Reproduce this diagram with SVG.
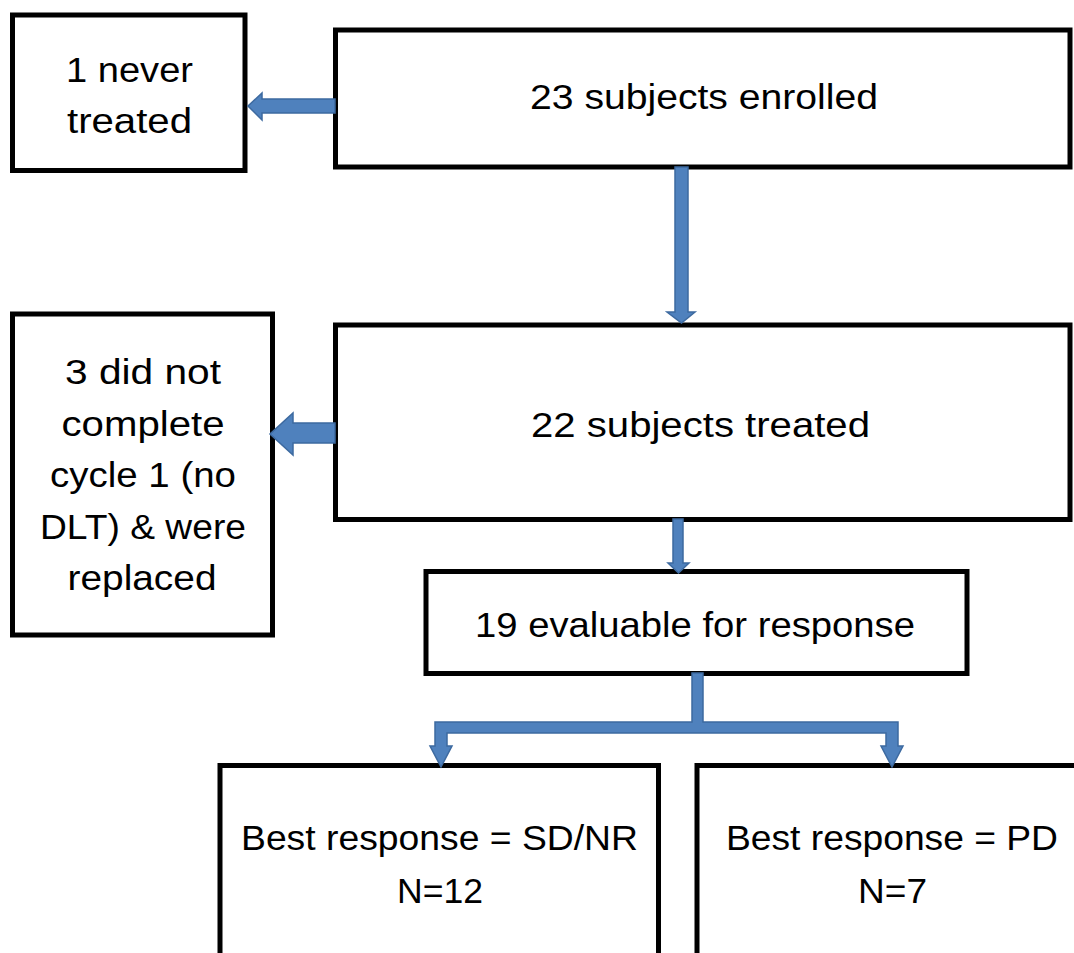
<svg xmlns="http://www.w3.org/2000/svg" width="1074" height="953" viewBox="0 0 1074 953">
<style>
.box{fill:#ffffff;stroke:#000000;stroke-width:5}
.t{font-family:"Liberation Sans",Arial,sans-serif;font-size:35px;fill:#000000;text-anchor:middle}
.arr{fill:#4f81bd;stroke:#3d6aa0;stroke-width:1.5;stroke-linejoin:miter}
</style>
<rect width="1074" height="953" fill="#ffffff"/>
<g id="node-never-treated">
<rect class="box" x="12.5" y="15" width="232.5" height="155.5"/>
<text class="t" x="129.5" y="82" textLength="127" lengthAdjust="spacingAndGlyphs">1 never</text>
<text class="t" x="129.5" y="133" textLength="125" lengthAdjust="spacingAndGlyphs">treated</text>
</g>
<g id="node-enrolled">
<rect class="box" x="335.5" y="30" width="734.5" height="137"/>
<text class="t" x="704" y="109" textLength="348" lengthAdjust="spacingAndGlyphs">23 subjects enrolled</text>
</g>
<g id="node-not-complete">
<rect class="box" x="12.5" y="314" width="260" height="321"/>
<text class="t" x="143" y="384" textLength="156" lengthAdjust="spacingAndGlyphs">3 did not</text>
<text class="t" x="143" y="435.5" textLength="163" lengthAdjust="spacingAndGlyphs">complete</text>
<text class="t" x="143" y="487" textLength="186" lengthAdjust="spacingAndGlyphs">cycle 1 (no</text>
<text class="t" x="143" y="538.5" textLength="206" lengthAdjust="spacingAndGlyphs">DLT) &amp; were</text>
<text class="t" x="142" y="590" textLength="149" lengthAdjust="spacingAndGlyphs">replaced</text>
</g>
<g id="node-treated">
<rect class="box" x="335.5" y="325" width="734.5" height="194.5"/>
<text class="t" x="700.5" y="437" textLength="339" lengthAdjust="spacingAndGlyphs">22 subjects treated</text>
</g>
<g id="node-evaluable">
<rect class="box" x="426" y="571.5" width="541" height="102"/>
<text class="t" x="695" y="637" textLength="440" lengthAdjust="spacingAndGlyphs">19 evaluable for response</text>
</g>
<g id="node-sd-nr">
<rect class="box" x="220" y="765.5" width="438.5" height="220"/>
<text class="t" x="439.5" y="850" textLength="397" lengthAdjust="spacingAndGlyphs">Best response = SD/NR</text>
<text class="t" x="440" y="903" textLength="86" lengthAdjust="spacingAndGlyphs">N=12</text>
</g>
<g id="node-pd">
<rect class="box" x="697" y="765.5" width="420" height="220"/>
<text class="t" x="892" y="850" textLength="332" lengthAdjust="spacingAndGlyphs">Best response = PD</text>
<text class="t" x="892.5" y="903" textLength="69" lengthAdjust="spacingAndGlyphs">N=7</text>
</g>
<g id="connectors">
<polygon class="arr" points="335,99 262,99 262,93 248,106 262,120 262,113 335,113"/>
<polygon class="arr" points="675,167 688,167 688,312 695,312 681.5,323 667,312 675,312"/>
<polygon class="arr" points="335,423 293,423 293,413 270,434 293,455 293,443 335,443"/>
<polygon class="arr" points="673,519 683,519 683,563 689,563 678.5,573 668,563 673,563"/>
<polygon class="arr" points="692,673 703,673 703,722 898,722 898,746 903,746 892,767 881,746 886,746 886,733 447,733 447,746 452,746 441,767 430,746 435,746 435,722 692,722"/>
</g>
</svg>
